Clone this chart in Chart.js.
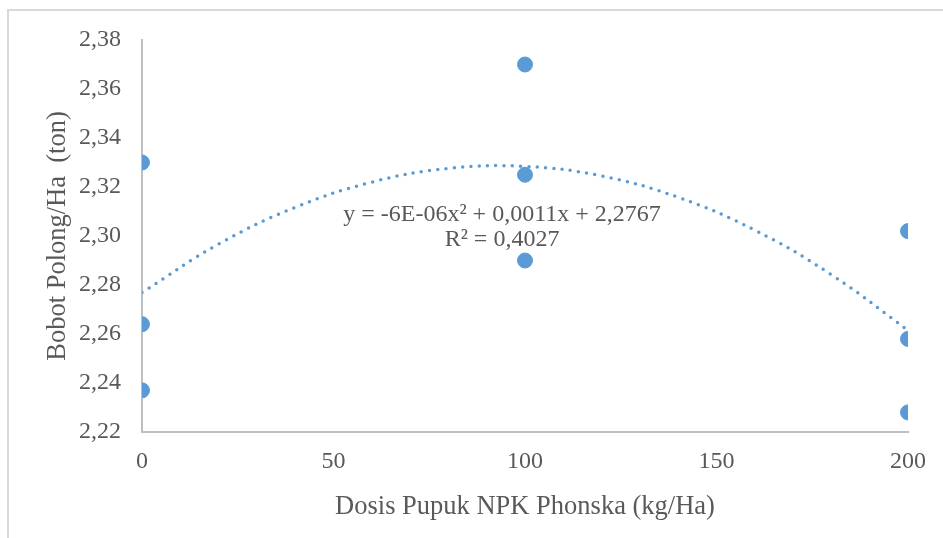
<!DOCTYPE html>
<html>
<head>
<meta charset="utf-8">
<script src="https://cdn.jsdelivr.net/npm/chart.js@4.4.1/dist/chart.umd.min.js"></script>
<style>
  html, body { margin: 0; padding: 0; background: #fff; }
  #frame { position: absolute; left: 7px; top: 9px; width: 960px; height: 560px;
           border-top: 2px solid #d9d9d9; border-left: 2px solid #d9d9d9; }
  #wrap { position: absolute; left: 0; top: 0; width: 943px; height: 538px; }
</style>
</head>
<body>
<div id="frame"></div>
<div id="wrap"><canvas id="chart" width="943" height="538"></canvas></div>
<script>
// observed points
const doseX = [0, 0, 0, 100, 100, 100, 200, 200, 200];
const weightY = [2.330, 2.264, 2.237, 2.370, 2.325, 2.290, 2.302, 2.258, 2.228];

// polynomial trendline
const trendX = [0, 20, 40, 60, 80, 100, 120, 140, 160, 180, 200];
const trendY = [2.2769, 2.2967, 2.3117, 2.3220, 2.3276, 2.3284, 2.3245, 2.3158, 2.3024, 2.2842, 2.2615];

const eqLines = ["y = -6E-06x² + 0,0011x + 2,2767", "R² = 0,4027"];
const eqAnchor = { x: 94, y: [2.3086, 2.2984] };

const textColor = "#595959";
const blue = "#5b9bd5";
const fontFamily = "'Liberation Serif', 'Times New Roman', serif";

const equationLabel = {
  id: "equationLabel",
  afterDatasetsDraw(chart) {
    const { ctx, scales } = chart;
    ctx.save();
    ctx.font = "24px " + fontFamily;
    ctx.fillStyle = textColor;
    ctx.textAlign = "center";
    ctx.textBaseline = "middle";
    eqLines.forEach((line, i) => {
      ctx.fillText(line, scales.x.getPixelForValue(eqAnchor.x), scales.y.getPixelForValue(eqAnchor.y[i]));
    });
    ctx.restore();
  },
};

const ctx = document.getElementById("chart").getContext("2d");
new Chart(ctx, {
  type: "scatter",
  data: {
    datasets: [
      {
        label: "Bobot",
        data: doseX.map((x, i) => ({ x: x, y: weightY[i] })),
        backgroundColor: blue,
        borderColor: blue,
        pointRadius: 7.5,
        pointHoverRadius: 7.5,
      },
      {
        type: "line",
        label: "Poly. (Bobot)",
        data: trendX.map((x, i) => ({ x: x, y: trendY[i] })),
        borderColor: blue,
        borderWidth: 3.5,
        borderDash: [0, 8.3],
        borderCapStyle: "round",
        tension: 0.4,
        pointRadius: 0,
        fill: false,
      },
    ],
  },
  options: {
    responsive: false,
    animation: false,
    layout: { padding: { left: 0, right: 35, top: 40, bottom: 0 } },
    plugins: { legend: { display: false }, tooltip: { enabled: false } },
    scales: {
      x: {
        type: "linear",
        min: 0,
        max: 200,
        afterFit(scale) { scale.height = 106; },
        ticks: {
          stepSize: 50,
          padding: 15,
          color: textColor,
          font: { family: fontFamily, size: 24 },
        },
        grid: { display: false, drawTicks: false },
        border: { display: true, color: "#bfbfbf", width: 2 },
        title: {
          display: true,
          text: "Dosis Pupuk NPK Phonska (kg/Ha)",
          color: textColor,
          font: { family: fontFamily, size: 26.5 },
          padding: { top: 0, bottom: 15 },
        },
      },
      y: {
        min: 2.22,
        max: 2.38,
        afterFit(scale) { scale.width = 142; },
        ticks: {
          stepSize: 0.02,
          padding: 21,
          color: textColor,
          font: { family: fontFamily, size: 24 },
          callback: (v) => v.toFixed(2).replace(".", ","),
        },
        grid: { display: false, drawTicks: false },
        border: { display: true, color: "#bfbfbf", width: 2 },
        title: {
          display: true,
          text: "Bobot Polong/Ha  (ton)",
          color: textColor,
          font: { family: fontFamily, size: 26.5 },
          padding: { top: 42, bottom: 0 },
        },
      },
    },
  },
  plugins: [equationLabel],
});
</script>
</body>
</html>
